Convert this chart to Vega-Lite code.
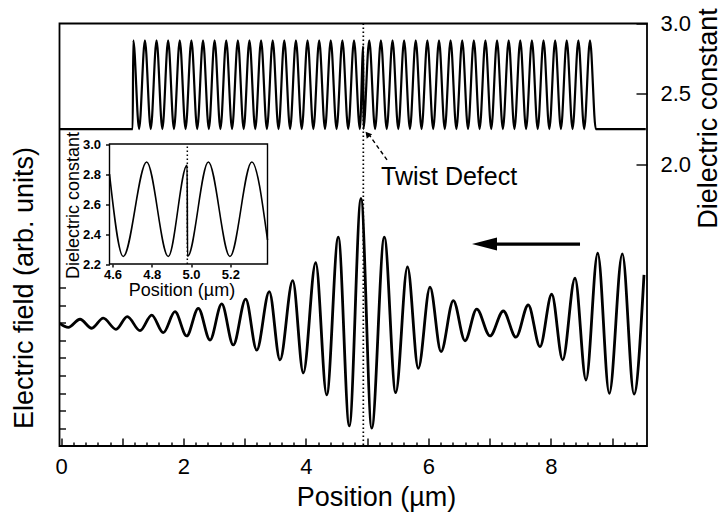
{
  "$schema": "https://vega.github.io/schema/vega-lite/v6.json",
  "width": 587.5,
  "height": 422.5,
  "autosize": {"type": "none"},
  "padding": {"left": 59.5, "top": 23.5, "right": 74, "bottom": 67},
  "background": "white",
  "config": {
    "font": "Liberation Sans",
    "view": {"stroke": "black", "strokeWidth": 1.8},
    "axis": {"grid": false, "domain": false, "labelColor": "black", "titleColor": "black", "tickColor": "black", "titleFontWeight": "normal", "tickWidth": 1.4, "labelFontWeight": "normal", "zindex": 1}
  },
  "datasets": {
    "efield": [
      {"x": -0.02, "e": 6.97}, {"x": 0.119, "e": 6.74}, {"x": 0.31, "e": 7.2}, {"x": 0.501, "e": 6.69},
      {"x": 0.69, "e": 7.26}, {"x": 0.898, "e": 6.63}, {"x": 1.082, "e": 7.35}, {"x": 1.29, "e": 6.55},
      {"x": 1.481, "e": 7.44}, {"x": 1.67, "e": 6.44}, {"x": 1.861, "e": 7.63}, {"x": 2.052, "e": 6.25},
      {"x": 2.242, "e": 7.82}, {"x": 2.433, "e": 6.02}, {"x": 2.624, "e": 8.07}, {"x": 2.813, "e": 5.74},
      {"x": 3.016, "e": 8.34}, {"x": 3.196, "e": 5.45}, {"x": 3.401, "e": 8.77}, {"x": 3.576, "e": 4.89},
      {"x": 3.784, "e": 9.39}, {"x": 3.957, "e": 4.15}, {"x": 4.159, "e": 10.41}, {"x": 4.339, "e": 2.9},
      {"x": 4.528, "e": 11.86}, {"x": 4.708, "e": 1.14}, {"x": 4.899, "e": 14.07}, {"x": 5.074, "e": 1.01},
      {"x": 5.28, "e": 11.86}, {"x": 5.466, "e": 3.03}, {"x": 5.658, "e": 10.17}, {"x": 5.835, "e": 4.41},
      {"x": 6.026, "e": 9.02}, {"x": 6.206, "e": 5.36}, {"x": 6.407, "e": 8.26}, {"x": 6.598, "e": 5.98},
      {"x": 6.789, "e": 7.78}, {"x": 7.006, "e": 6.25}, {"x": 7.223, "e": 7.67}, {"x": 7.43, "e": 6.18},
      {"x": 7.631, "e": 8.01}, {"x": 7.822, "e": 5.64}, {"x": 8.014, "e": 8.62}, {"x": 8.193, "e": 4.89},
      {"x": 8.394, "e": 9.53}, {"x": 8.574, "e": 3.75}, {"x": 8.765, "e": 10.95}, {"x": 8.954, "e": 2.99},
      {"x": 9.167, "e": 10.91}, {"x": 9.358, "e": 2.95}, {"x": 9.521, "e": 9.72}
    ],
    "diel": [
      {"x": -0.025, "d": 2.25}, {"x": 1.17, "d": 2.25}, {"x": 1.18, "d": 2.88}, {"x": 1.275, "d": 2.25},
      {"x": 1.37, "d": 2.88}, {"x": 1.465, "d": 2.25}, {"x": 1.56, "d": 2.88}, {"x": 1.655, "d": 2.25},
      {"x": 1.749, "d": 2.88}, {"x": 1.844, "d": 2.25}, {"x": 1.939, "d": 2.88}, {"x": 2.034, "d": 2.25},
      {"x": 2.129, "d": 2.88}, {"x": 2.224, "d": 2.25}, {"x": 2.319, "d": 2.88}, {"x": 2.414, "d": 2.25},
      {"x": 2.508, "d": 2.88}, {"x": 2.603, "d": 2.25}, {"x": 2.698, "d": 2.88}, {"x": 2.793, "d": 2.25},
      {"x": 2.888, "d": 2.88}, {"x": 2.983, "d": 2.25}, {"x": 3.077, "d": 2.88}, {"x": 3.172, "d": 2.25},
      {"x": 3.267, "d": 2.88}, {"x": 3.362, "d": 2.25}, {"x": 3.457, "d": 2.88}, {"x": 3.552, "d": 2.25},
      {"x": 3.646, "d": 2.88}, {"x": 3.741, "d": 2.25}, {"x": 3.836, "d": 2.88}, {"x": 3.931, "d": 2.25},
      {"x": 4.026, "d": 2.88}, {"x": 4.121, "d": 2.25}, {"x": 4.216, "d": 2.88}, {"x": 4.311, "d": 2.25},
      {"x": 4.405, "d": 2.88}, {"x": 4.5, "d": 2.25}, {"x": 4.595, "d": 2.88}, {"x": 4.69, "d": 2.25},
      {"x": 4.785, "d": 2.88}, {"x": 4.88, "d": 2.25}, {"x": 4.936, "d": 2.84}, {"x": 4.938, "d": 2.25},
      {"x": 5.034, "d": 2.88}, {"x": 5.129, "d": 2.25}, {"x": 5.224, "d": 2.88}, {"x": 5.319, "d": 2.25},
      {"x": 5.414, "d": 2.88}, {"x": 5.508, "d": 2.25}, {"x": 5.603, "d": 2.88}, {"x": 5.698, "d": 2.25},
      {"x": 5.793, "d": 2.88}, {"x": 5.888, "d": 2.25}, {"x": 5.983, "d": 2.88}, {"x": 6.078, "d": 2.25},
      {"x": 6.173, "d": 2.88}, {"x": 6.267, "d": 2.25}, {"x": 6.362, "d": 2.88}, {"x": 6.457, "d": 2.25},
      {"x": 6.552, "d": 2.88}, {"x": 6.647, "d": 2.25}, {"x": 6.742, "d": 2.88}, {"x": 6.836, "d": 2.25},
      {"x": 6.931, "d": 2.88}, {"x": 7.026, "d": 2.25}, {"x": 7.121, "d": 2.88}, {"x": 7.216, "d": 2.25},
      {"x": 7.311, "d": 2.88}, {"x": 7.405, "d": 2.25}, {"x": 7.5, "d": 2.88}, {"x": 7.595, "d": 2.25},
      {"x": 7.69, "d": 2.88}, {"x": 7.785, "d": 2.25}, {"x": 7.88, "d": 2.88}, {"x": 7.975, "d": 2.25},
      {"x": 8.07, "d": 2.88}, {"x": 8.164, "d": 2.25}, {"x": 8.259, "d": 2.88}, {"x": 8.354, "d": 2.25},
      {"x": 8.449, "d": 2.88}, {"x": 8.544, "d": 2.25}, {"x": 8.639, "d": 2.88}, {"x": 8.734, "d": 2.25},
      {"x": 9.55, "d": 2.25}
    ],
    "inset": [
      {"x": 4.585, "d": 2.8}, {"x": 4.655, "d": 2.25}, {"x": 4.774, "d": 2.88}, {"x": 4.884, "d": 2.25},
      {"x": 4.98, "d": 2.86}, {"x": 4.982, "d": 2.25}, {"x": 5.088, "d": 2.88}, {"x": 5.198, "d": 2.25},
      {"x": 5.309, "d": 2.88}, {"x": 5.389, "d": 2.36}
    ],
    "defect": [{"x": 4.937}],
    "arrow": [{"x": 7.0, "x2": 8.476, "e": 11.47}],
    "arrowhead": [{"x": 6.916, "e": 11.47}],
    "label": [{"x": 5.226, "d": 1.853, "t": "Twist Defect"}],
    "dash": [{"x": 5.324, "d": 2.031, "x2": 5.04, "d2": 2.205}],
    "dhead": [{"x": 5.005, "d": 2.215}],
    "insetframe": [{"x": 4.585, "x2": 5.389, "d": 2.2, "d2": 3.0}],
    "insetdefect": [{"x": 4.981, "d": 2.2, "d2": 3.0}]
  },
  "layer": [
    {
      "layer": [
        {
          "layer": [
            {
              "data": {"name": "efield"},
              "mark": {"type": "line", "interpolate": "monotone", "color": "black", "strokeWidth": 2.8},
              "encoding": {
                "x": {
                  "field": "x", "type": "quantitative",
                  "scale": {"domain": [-0.025, 9.57], "nice": false, "zero": false},
                  "axis": {
                    "orient": "bottom",
                    "values": [0, 1, 2, 3, 4, 5, 6, 7, 8, 9],
                    "format": ".0f",
                    "labelExpr": "datum.value % 2 == 0 ? datum.label : ''",
                    "labelOverlap": false,
                    "labelFlush": false,
                    "labelFontSize": 22,
                    "labelPadding": 18,
                    "tickSize": -8,
                    "title": "Position (µm)",
                    "titleFontSize": 27,
                    "titleX": 316.5,
                    "titleY": 59,
                    "titleBaseline": "alphabetic",
                    "titleAlign": "center"
                  }
                },
                "y": {
                  "field": "e", "type": "quantitative",
                  "scale": {"domain": [0, 24], "nice": false, "zero": false},
                  "axis": {
                    "orient": "left",
                    "values": [1, 2, 3, 4, 5, 6, 7, 8, 9],
                    "labels": false,
                    "tickSize": -6,
                    "title": "Electric field (arb. units)",
                    "titleFontSize": 27,
                    "titleAngle": -90,
                    "titleX": -27,
                    "titleY": 264,
                    "titleBaseline": "alphabetic",
                    "titleAlign": "center"
                  }
                }
              }
            },
            {
              "data": {"name": "arrow"},
              "mark": {"type": "rule", "color": "black", "strokeWidth": 3.2},
              "encoding": {
                "x": {"field": "x", "type": "quantitative"},
                "x2": {"field": "x2"},
                "y": {"field": "e", "type": "quantitative"}
              }
            },
            {
              "data": {"name": "arrowhead"},
              "mark": {"type": "point", "shape": "M-1,0L1,-0.52L1,0.52Z", "size": 625, "filled": true, "color": "black", "opacity": 1},
              "encoding": {
                "x": {"field": "x", "type": "quantitative"},
                "y": {"field": "e", "type": "quantitative"}
              }
            }
          ]
        },
        {
          "layer": [
            {
              "data": {"name": "diel"},
              "mark": {"type": "line", "interpolate": "monotone", "color": "black", "strokeWidth": 2.2},
              "encoding": {
                "x": {"field": "x", "type": "quantitative"},
                "y": {
                  "field": "d", "type": "quantitative",
                  "scale": {"domain": [0, 3], "nice": false, "zero": false},
                  "axis": {
                    "orient": "right",
                    "values": [2, 2.5, 3],
                    "format": ".1f",
                    "labelFontSize": 22,
                    "labelPadding": 24,
                    "tickSize": -11,
                    "title": "Dielectric constant",
                    "titleFontSize": 27,
                    "titleAngle": -90,
                    "titleX": 69,
                    "titleY": 94.5,
                    "titleBaseline": "alphabetic",
                    "titleAlign": "center"
                  }
                }
              }
            },
            {
              "data": {"name": "label"},
              "mark": {"type": "text", "align": "left", "baseline": "alphabetic", "fontSize": 25, "color": "black"},
              "encoding": {
                "x": {"field": "x", "type": "quantitative"},
                "y": {"field": "d", "type": "quantitative"},
                "text": {"field": "t"}
              }
            },
            {
              "data": {"name": "dash"},
              "mark": {"type": "rule", "color": "black", "strokeWidth": 1.4, "strokeDash": [4, 3]},
              "encoding": {
                "x": {"field": "x", "type": "quantitative"},
                "x2": {"field": "x2"},
                "y": {"field": "d", "type": "quantitative"},
                "y2": {"field": "d2"}
              }
            },
            {
              "data": {"name": "dhead"},
              "mark": {"type": "point", "shape": "triangle-up", "angle": -40, "size": 50, "filled": true, "color": "black", "opacity": 1},
              "encoding": {
                "x": {"field": "x", "type": "quantitative"},
                "y": {"field": "d", "type": "quantitative"}
              }
            }
          ]
        },
        {
          "data": {"name": "defect"},
          "mark": {"type": "rule", "strokeDash": [1.5, 2.5], "strokeWidth": 1.7, "color": "black"},
          "encoding": {"x": {"field": "x", "type": "quantitative"}}
        }
      ],
      "resolve": {"scale": {"y": "independent"}, "axis": {"y": "independent"}}
    },
    {
      "data": {"name": "defect"},
      "mark": {"type": "rule", "opacity": 0},
      "encoding": {
        "x": {
          "field": "x", "type": "quantitative",
          "scale": {"domain": [-0.025, 9.57], "nice": false, "zero": false},
          "axis": {
            "orient": "bottom",
            "values": [0.2, 0.4, 0.6, 0.8, 1.2, 1.4, 1.6, 1.8, 2.2, 2.4, 2.6, 2.8, 3.2, 3.4, 3.6, 3.8, 4.2, 4.4, 4.6, 4.8, 5.2, 5.4, 5.6, 5.8, 6.2, 6.4, 6.6, 6.8, 7.2, 7.4, 7.6, 7.8, 8.2, 8.4, 8.6, 8.8, 9.2, 9.4],
            "labels": false,
            "tickSize": -4,
            "title": null
          }
        }
      }
    },
    {
      "layer": [
        {
          "data": {"name": "insetframe"},
          "mark": {"type": "rect", "fill": "white", "stroke": "black", "strokeWidth": 1.4},
          "encoding": {
            "x": {
              "field": "x", "type": "quantitative",
              "scale": {"domain": [4.585, 5.389], "range": [50, 208], "nice": false, "zero": false},
              "axis": {
                "orient": "bottom",
                "offset": -182,
                "values": [4.6, 4.8, 5.0, 5.2],
                "format": ".1f",
                "labelFontSize": 13,
                "labelFontWeight": "bold",
                "labelPadding": 1,
                "tickSize": 3,
                "title": "Position (µm)",
                "titleFontSize": 18,
                "titleX": 122,
                "titleY": 31.5,
                "titleBaseline": "alphabetic",
                "titleAlign": "center"
              }
            },
            "x2": {"field": "x2"},
            "y": {
              "field": "d", "type": "quantitative",
              "scale": {"domain": [2.2, 3.0], "range": [240.5, 120.5], "nice": false, "zero": false},
              "axis": {
                "orient": "left",
                "offset": -50,
                "values": [2.2, 2.4, 2.6, 2.8, 3.0],
                "format": ".1f",
                "labelFontSize": 13,
                "labelFontWeight": "bold",
                "labelPadding": 5,
                "tickSize": 4,
                "title": "Dielectric constant",
                "titleFontSize": 18,
                "titleAngle": -90,
                "titleX": -31,
                "titleY": 181.5,
                "titleBaseline": "alphabetic",
                "titleAlign": "center"
              }
            },
            "y2": {"field": "d2"}
          }
        },
        {
          "data": {"name": "inset"},
          "mark": {"type": "line", "interpolate": "monotone", "color": "black", "strokeWidth": 1.6},
          "encoding": {
            "x": {"field": "x", "type": "quantitative"},
            "y": {"field": "d", "type": "quantitative"}
          }
        },
        {
          "data": {"name": "insetdefect"},
          "mark": {"type": "rule", "strokeDash": [1.5, 2.5], "strokeWidth": 1.5, "color": "black"},
          "encoding": {
            "x": {"field": "x", "type": "quantitative"},
            "y": {"field": "d", "type": "quantitative"},
            "y2": {"field": "d2"}
          }
        }
      ]
    }
  ],
  "resolve": {"scale": {"x": "independent", "y": "independent"}, "axis": {"x": "independent", "y": "independent"}}
}
